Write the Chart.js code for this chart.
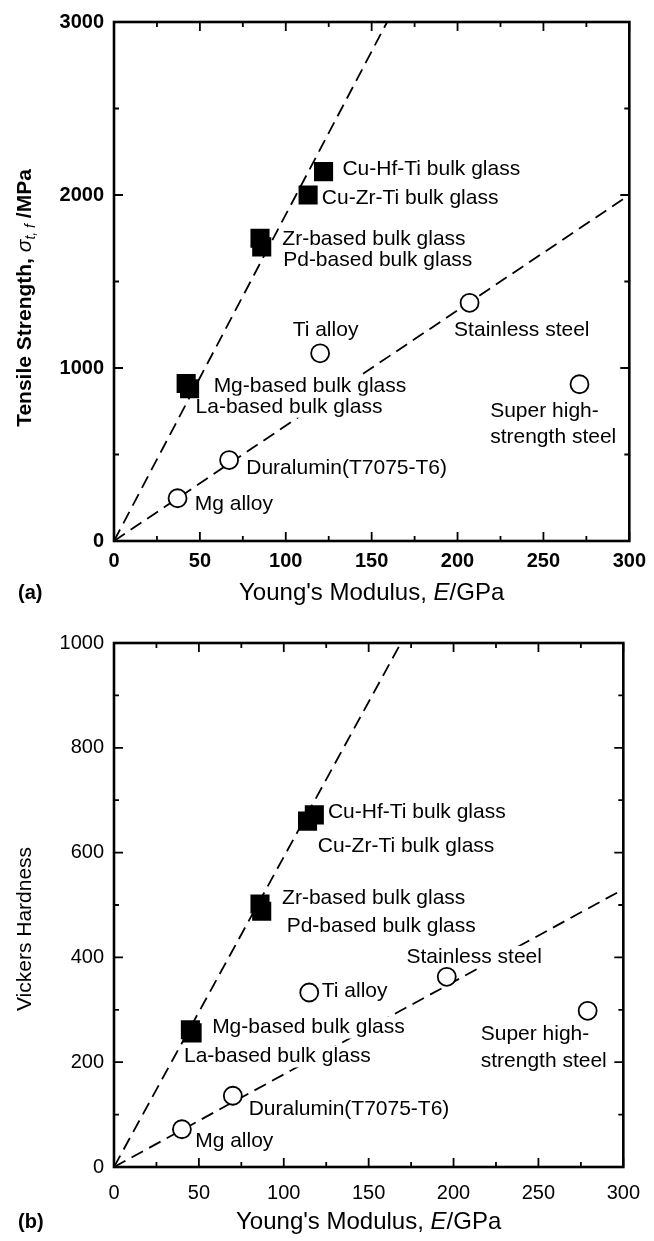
<!DOCTYPE html>
<html>
<head>
<meta charset="utf-8">
<script src="https://cdn.jsdelivr.net/npm/chart.js@4.4.1/dist/chart.umd.min.js"></script>
<style>
  body { margin: 0; background: #fff; }
  canvas { display: block; }
</style>
</head>
<body>
<canvas id="chartA" width="654" height="620"></canvas>
<canvas id="chartB" width="654" height="621"></canvas>
<script>
// material names (same order in both panels)
const glassNames = ['Cu-Hf-Ti bulk glass', 'Cu-Zr-Ti bulk glass', 'Zr-based bulk glass',
  'Pd-based bulk glass', 'Mg-based bulk glass', 'La-based bulk glass'];
const crystNames = ['Ti alloy', 'Stainless steel', 'Super high-strength steel',
  'Duralumin(T7075-T6)', 'Mg alloy'];

// (a) tensile strength vs Young's modulus
const modulusGlassA = [122, 113, 85, 86, 42, 44];
const tensileGlass = [2135, 2000, 1750, 1700, 910, 880];
const modulusCrystA = [120, 207, 271, 67, 37];
const tensileCryst = [1085, 1377, 906, 468, 247];
const steepFitA = { x: [0, 159], y: [0, 3000] };
const shallowFitA = { x: [0, 300], y: [0, 2000] };

// (b) Vickers hardness vs Young's modulus
const modulusGlassB = [118, 114, 86, 87, 45, 46];
const hardnessGlass = [672, 660, 502, 488, 262, 256];
const modulusCrystB = [115, 196, 279, 70, 40];
const hardnessCryst = [333, 363, 298, 136, 72];
const steepFitB = { x: [0, 169], y: [0, 1000] };
const shallowFitB = { x: [0, 300], y: [0, 530] };

// text annotations, anchored in data units (left edge, middle)
const notesA = [
  ['Cu-Hf-Ti bulk glass', 133, 2150], ['Cu-Zr-Ti bulk glass', 121, 1980],
  ['Zr-based bulk glass', 98, 1745], ['Pd-based bulk glass', 98.5, 1624],
  ['Ti alloy', 104, 1216], ['Stainless steel', 198, 1216],
  ['Mg-based bulk glass', 58, 892], ['La-based bulk glass', 47.5, 776],
  ['Super high-', 219, 753], ['strength steel', 219, 598],
  ['Duralumin(T7075-T6)', 77, 418], ['Mg alloy', 47, 212]
];
const notesB = [
  ['Cu-Hf-Ti bulk glass', 126, 678], ['Cu-Zr-Ti bulk glass', 120, 613],
  ['Zr-based bulk glass', 99, 513], ['Pd-based bulk glass', 101.7, 460],
  ['Stainless steel', 172.3, 401], ['Ti alloy', 122.4, 335],
  ['Mg-based bulk glass', 57.8, 266], ['La-based bulk glass', 41.2, 211],
  ['Super high-', 216, 254], ['strength steel', 216, 202],
  ['Duralumin(T7075-T6)', 79.3, 110], ['Mg alloy', 47.8, 49]
];

const FONT = '"Liberation Sans", Arial, Helvetica, sans-serif';

function pts(xs, ys) {
  return xs.map((x, i) => ({ x: x, y: ys[i] }));
}

function drawRich(ctx, parts, x, y, angle) {
  ctx.save();
  ctx.translate(x, y);
  ctx.rotate(angle);
  ctx.textBaseline = 'middle';
  ctx.textAlign = 'left';
  let total = 0;
  for (const p of parts) { ctx.font = p.font; total += ctx.measureText(p.t).width; }
  let cx = -total / 2;
  for (const p of parts) {
    ctx.font = p.font;
    ctx.fillText(p.t, cx, p.dy || 0);
    cx += ctx.measureText(p.t).width;
  }
  ctx.restore();
}

function drawNotes(chart, notes) {
  const ctx = chart.ctx, xs = chart.scales.x, ys = chart.scales.y;
  ctx.save();
  ctx.font = '21px ' + FONT;
  ctx.textBaseline = 'middle';
  ctx.textAlign = 'left';
  for (const n of notes) {
    const px = xs.getPixelForValue(n[1]), py = ys.getPixelForValue(n[2]);
    const w = ctx.measureText(n[0]).width;
    ctx.fillStyle = '#fff';
    ctx.fillRect(px - 2, py - 11, w + 4, 22);
    ctx.fillStyle = '#000';
    ctx.fillText(n[0], px, py);
  }
  ctx.restore();
}

function drawFrame(chart, opt) {
  const ctx = chart.ctx, a = chart.chartArea, xs = chart.scales.x, ys = chart.scales.y;
  ctx.save();
  ctx.strokeStyle = '#000';
  ctx.lineWidth = 2.6;
  ctx.strokeRect(a.left, a.top, a.right - a.left, a.bottom - a.top);
  ctx.lineWidth = 1.8;
  ctx.beginPath();
  for (let v = xs.min; v <= xs.max; v += opt.xMinor) {
    const p = xs.getPixelForValue(v);
    const len = v % opt.xMajor === 0 ? 9 : 5;
    ctx.moveTo(p, a.bottom); ctx.lineTo(p, a.bottom - len);
    ctx.moveTo(p, a.top); ctx.lineTo(p, a.top + len);
  }
  for (let v = ys.min; v <= ys.max; v += opt.yMinor) {
    const p = ys.getPixelForValue(v);
    const len = v % opt.yMajor === 0 ? 9 : 5;
    ctx.moveTo(a.left, p); ctx.lineTo(a.left + len, p);
    ctx.moveTo(a.right, p); ctx.lineTo(a.right - len, p);
  }
  ctx.stroke();
  ctx.restore();
}

function panelPlugin(opt) {
  let notesDone = false;
  return {
    id: 'panel',
    beforeDatasetsDraw() { notesDone = false; },
    beforeDatasetDraw(chart, args) {
      if (chart.data.datasets[args.index].isMarker && !notesDone) {
        drawNotes(chart, opt.notes);
        notesDone = true;
      }
    },
    afterDraw(chart) {
      const ctx = chart.ctx, a = chart.chartArea;
      drawFrame(chart, opt);
      ctx.fillStyle = '#000';
      drawRich(ctx, [
        { t: "Young's Modulus, ", font: '24px ' + FONT },
        { t: 'E', font: 'italic 24px ' + FONT },
        { t: '/GPa', font: '24px ' + FONT }
      ], (a.left + a.right) / 2, opt.xTitleY, 0);
      drawRich(ctx, opt.yTitle, 25, opt.yTitleY, -Math.PI / 2);
      ctx.save();
      ctx.font = 'bold 20px ' + FONT;
      ctx.textBaseline = 'middle';
      ctx.textAlign = 'left';
      ctx.fillText(opt.tag, 18, opt.xTitleY);
      ctx.restore();
    }
  };
}

function fitSet(fit) {
  return {
    data: pts(fit.x, fit.y), showLine: true, pointRadius: 0,
    borderColor: '#000', borderWidth: 1.8, borderDash: [13, 7], order: 2
  };
}

function makeChart(id, o) {
  const glass = {
    isMarker: true, data: pts(o.gx, o.gy), pointStyle: 'rect', pointRadius: 13.5,
    backgroundColor: '#000', borderColor: '#000', borderWidth: 0, order: 1
  };
  const cryst = {
    isMarker: true, data: pts(o.cx, o.cy), pointStyle: 'circle', pointRadius: 9,
    backgroundColor: '#fff', borderColor: '#000', borderWidth: 1.8, order: 0
  };
  const tickFont = { family: FONT, size: 20, weight: o.tickWeight };
  return new Chart(document.getElementById(id), {
    type: 'scatter',
    data: { datasets: [fitSet(o.steep), fitSet(o.shallow), glass, cryst] },
    options: {
      responsive: false, animation: false,
      layout: { padding: { left: 0, top: o.top, right: 19, bottom: 0 } },
      plugins: { legend: { display: false }, tooltip: { enabled: false } },
      scales: {
        x: {
          type: 'linear', min: 0, max: 300,
          grid: { display: false, drawTicks: false }, border: { display: false },
          ticks: { stepSize: 50, color: '#000', font: tickFont, padding: o.xPad, maxRotation: 0 },
          afterFit: s => { s.height = o.xHeight; }
        },
        y: {
          type: 'linear', min: 0, max: o.yMax,
          grid: { display: false, drawTicks: false }, border: { display: false },
          ticks: { stepSize: o.yMajor, color: '#000', font: tickFont, padding: 10, callback: v => String(v) },
          afterFit: s => { s.width = 114; }
        }
      }
    },
    plugins: [panelPlugin(o)]
  });
}

makeChart('chartA', {
  gx: modulusGlassA, gy: tensileGlass, cx: modulusCrystA, cy: tensileCryst,
  steep: steepFitA, shallow: shallowFitA, notes: notesA, tickWeight: 'bold',
  top: 22, xHeight: 79, xPad: 8, yMax: 3000, yMajor: 1000, yMinor: 500,
  xMajor: 50, xMinor: 25, xTitleY: 593, yTitleY: 298, tag: '(a)',
  yTitle: [
    { t: 'Tensile Strength, ', font: 'bold 21px ' + FONT },
    { t: '\u03c3', font: 'italic 21px ' + FONT },
    { t: 't, f', font: 'italic 14px ' + FONT, dy: 6 },
    { t: ' /MPa', font: 'bold 21px ' + FONT }
  ]
});

makeChart('chartB', {
  gx: modulusGlassB, gy: hardnessGlass, cx: modulusCrystB, cy: hardnessCryst,
  steep: steepFitB, shallow: shallowFitB, notes: notesB, tickWeight: 'normal',
  top: 23, xHeight: 74, xPad: 14, yMax: 1000, yMajor: 200, yMinor: 100,
  xMajor: 50, xMinor: 25, xTitleY: 602, yTitleY: 309, tag: '(b)',
  yTitle: [{ t: 'Vickers Hardness', font: '21px ' + FONT }]
});
</script>
</body>
</html>
